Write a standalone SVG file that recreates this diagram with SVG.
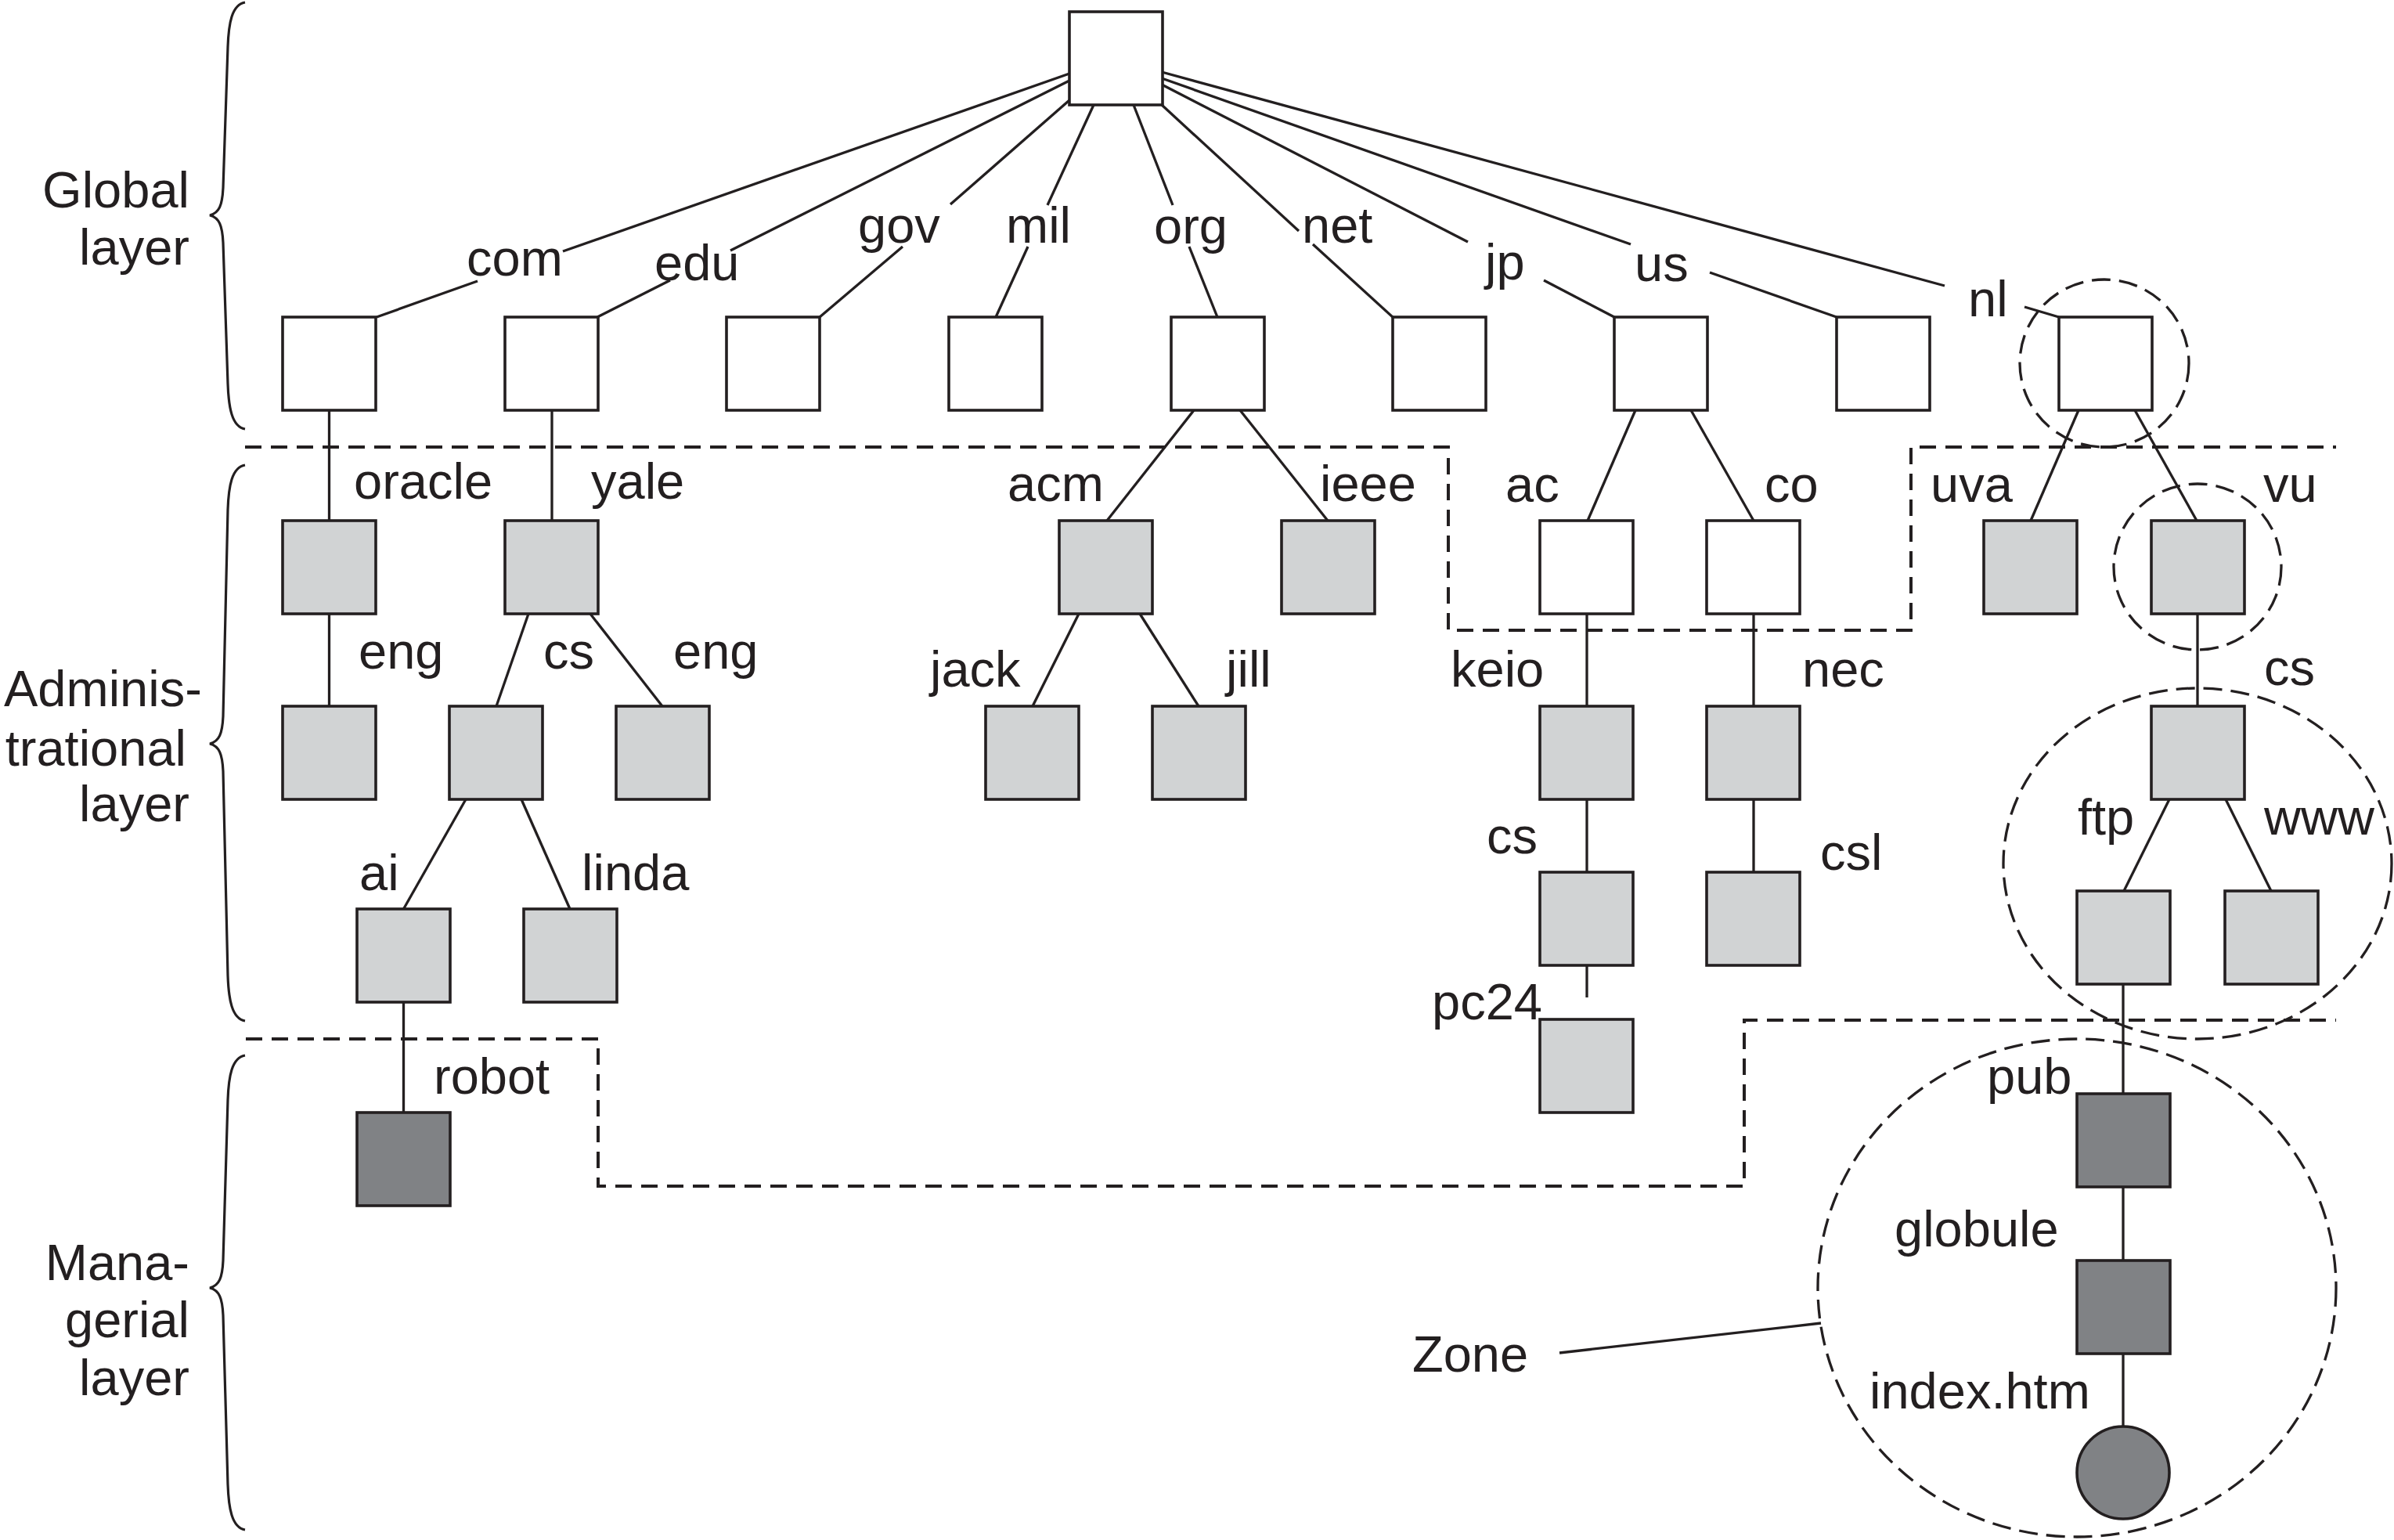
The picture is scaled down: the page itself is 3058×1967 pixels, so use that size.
<svg xmlns="http://www.w3.org/2000/svg" width="3058" height="1967" viewBox="0 0 3058 1967">
<style>
  .bx { stroke:#231f20; stroke-width:3.6; }
  .w { fill:#ffffff; }
  .g { fill:#d1d3d4; }
  .d { fill:#808285; }
  .ln { stroke:#231f20; stroke-width:3.3; fill:none; stroke-linecap:butt; }
  .br { stroke:#231f20; stroke-width:3.2; fill:none; }
  .ds { stroke:#231f20; stroke-width:4; fill:none; stroke-dasharray:21 12; }
  .zc { stroke:#231f20; stroke-width:3.3; fill:none; stroke-dasharray:24 11; }
  text { font-family:"Liberation Sans", Arial, Helvetica, sans-serif; font-size:65px; fill:#231f20; }
  .e { text-anchor:end; }
</style>
<rect x="0" y="0" width="3058" height="1967" fill="#ffffff"/>

<g id="layers">
  <path class="br" d="M313,3 C296,6 292,30 291,60 L285,240 C284,262 280,272 268,275 C280,278 284,288 285,310 L291,490 C292,520 296,545 313,548"/>
  <text class="e" x="242" y="265">Global</text>
  <text class="e" x="242" y="338">layer</text>
  <path class="br" d="M313,594 C296,597 292,621 291,651 L285,915 C284,937 280,947 268,950 C280,953 284,963 285,985 L291,1246 C292,1276 296,1301 313,1304"/>
  <text x="5" y="902">Adminis-</text>
  <text class="e" x="238" y="978">trational</text>
  <text class="e" x="242" y="1049">layer</text>
  <path class="br" d="M313,1348 C296,1351 292,1375 291,1405 L285,1610 C284,1632 280,1642 268,1645 C280,1648 284,1658 285,1680 L291,1896 C292,1926 296,1951 313,1954"/>
  <text class="e" x="242" y="1635">Mana-</text>
  <text class="e" x="242" y="1708">gerial</text>
  <text class="e" x="242" y="1782">layer</text>
</g>

<g id="boundaries">
  <path class="ds" d="M313,571 H1850 V805 H2441 V571 H2984"/>
  <path class="ds" d="M314,1327 H764 V1515 H2228 V1303 H2984"/>
</g>

<g id="connectors">
  <line class="ln" x1="1366" y1="94" x2="719" y2="321"/>
  <line class="ln" x1="610" y1="359" x2="481" y2="405"/>
  <line class="ln" x1="1366" y1="103" x2="933" y2="320"/>
  <line class="ln" x1="856" y1="358" x2="763" y2="405"/>
  <line class="ln" x1="1366" y1="128" x2="1214" y2="261"/>
  <line class="ln" x1="1153" y1="315" x2="1047" y2="405"/>
  <line class="ln" x1="1397" y1="134" x2="1338" y2="262"/>
  <line class="ln" x1="1313" y1="315" x2="1272" y2="405"/>
  <line class="ln" x1="1448" y1="134" x2="1498" y2="262"/>
  <line class="ln" x1="1519" y1="315" x2="1555" y2="405"/>
  <line class="ln" x1="1484" y1="134" x2="1659" y2="295"/>
  <line class="ln" x1="1677" y1="312" x2="1779" y2="405"/>
  <line class="ln" x1="1484" y1="108" x2="1875" y2="309"/>
  <line class="ln" x1="1972" y1="358" x2="2062" y2="405"/>
  <line class="ln" x1="1484" y1="100" x2="2083" y2="312"/>
  <line class="ln" x1="2184" y1="348" x2="2346" y2="405"/>
  <line class="ln" x1="1484" y1="92" x2="2484" y2="365"/>
  <line class="ln" x1="2586" y1="392" x2="2630" y2="405"/>

  <line class="ln" x1="420.5" y1="524" x2="420.5" y2="665"/>
  <line class="ln" x1="420.5" y1="784" x2="420.5" y2="902"/>
  <line class="ln" x1="705" y1="524" x2="705" y2="665"/>
  <line class="ln" x1="675" y1="784" x2="634" y2="902"/>
  <line class="ln" x1="754" y1="784" x2="846" y2="902"/>
  <line class="ln" x1="595" y1="1021" x2="515.5" y2="1161"/>
  <line class="ln" x1="666" y1="1021" x2="728" y2="1161"/>
  <line class="ln" x1="515.5" y1="1280" x2="515.5" y2="1421"/>

  <line class="ln" x1="1525" y1="524" x2="1414" y2="665"/>
  <line class="ln" x1="1584" y1="524" x2="1696" y2="665"/>
  <line class="ln" x1="1378" y1="784" x2="1319" y2="902"/>
  <line class="ln" x1="1456" y1="784" x2="1531" y2="902"/>

  <line class="ln" x1="2089" y1="524" x2="2028" y2="665"/>
  <line class="ln" x1="2160" y1="524" x2="2240" y2="665"/>
  <line class="ln" x1="2027" y1="784" x2="2027" y2="902"/>
  <line class="ln" x1="2240" y1="784" x2="2240" y2="902"/>
  <line class="ln" x1="2027" y1="1021" x2="2027" y2="1114"/>
  <line class="ln" x1="2240" y1="1021" x2="2240" y2="1114"/>
  <line class="ln" x1="2027" y1="1233" x2="2027" y2="1274"/>

  <line class="ln" x1="2655" y1="524" x2="2594" y2="665"/>
  <line class="ln" x1="2727" y1="524" x2="2806" y2="665"/>
  <line class="ln" x1="2807" y1="784" x2="2807" y2="902"/>
  <line class="ln" x1="2771" y1="1021" x2="2713" y2="1138"/>
  <line class="ln" x1="2843" y1="1021" x2="2901" y2="1138"/>
  <line class="ln" x1="2712" y1="1257" x2="2712" y2="1397"/>
  <line class="ln" x1="2712" y1="1516" x2="2712" y2="1610"/>
  <line class="ln" x1="2712" y1="1729" x2="2712" y2="1822"/>
</g>

<g id="zones">
  <ellipse class="zc" cx="2688" cy="464" rx="108" ry="107"/>
  <ellipse class="zc" cx="2807" cy="724" rx="107" ry="106"/>
  <ellipse class="zc" cx="2807" cy="1103" rx="248" ry="224"/>
  <ellipse class="zc" cx="2653" cy="1645" rx="331" ry="318"/>
  <line class="ln" x1="1992" y1="1728" x2="2326" y2="1690"/>
  <text x="1804" y="1752">Zone</text>
</g>

<g id="node-root"><rect class="bx w" x="1366" y="15" width="119" height="119"/></g>

<g id="node-com"><rect class="bx w" x="361" y="405" width="119" height="119"/><text x="596" y="352">com</text></g>
<g id="node-edu"><rect class="bx w" x="645" y="405" width="119" height="119"/><text x="836" y="358">edu</text></g>
<g id="node-gov"><rect class="bx w" x="928" y="405" width="119" height="119"/><text x="1096" y="310">gov</text></g>
<g id="node-mil"><rect class="bx w" x="1212" y="405" width="119" height="119"/><text x="1285" y="310">mil</text></g>
<g id="node-org"><rect class="bx w" x="1496" y="405" width="119" height="119"/><text x="1474" y="311">org</text></g>
<g id="node-net"><rect class="bx w" x="1779" y="405" width="119" height="119"/><text x="1663" y="310">net</text></g>
<g id="node-jp"><rect class="bx w" x="2062" y="405" width="119" height="119"/><text x="1897" y="357">jp</text></g>
<g id="node-us"><rect class="bx w" x="2346" y="405" width="119" height="119"/><text x="2088" y="359">us</text></g>
<g id="node-nl"><rect class="bx w" x="2630" y="405" width="119" height="119"/><text x="2514" y="404">nl</text></g>

<g id="node-oracle"><rect class="bx g" x="361" y="665" width="119" height="119"/><text x="452" y="637">oracle</text></g>
<g id="node-yale"><rect class="bx g" x="645" y="665" width="119" height="119"/><text x="755" y="637">yale</text></g>
<g id="node-acm"><rect class="bx g" x="1353" y="665" width="119" height="119"/><text x="1287" y="640">acm</text></g>
<g id="node-ieee"><rect class="bx g" x="1637" y="665" width="119" height="119"/><text x="1686" y="640">ieee</text></g>
<g id="node-ac"><rect class="bx w" x="1967" y="665" width="119" height="119"/><text x="1923" y="641">ac</text></g>
<g id="node-co"><rect class="bx w" x="2180" y="665" width="119" height="119"/><text x="2254" y="641">co</text></g>
<g id="node-uva"><rect class="bx g" x="2534" y="665" width="119" height="119"/><text x="2466" y="641">uva</text></g>
<g id="node-vu"><rect class="bx g" x="2748" y="665" width="119" height="119"/><text x="2891" y="641">vu</text></g>

<g id="node-oracle-eng"><rect class="bx g" x="361" y="902" width="119" height="119"/><text x="458" y="854">eng</text></g>
<g id="node-yale-cs"><rect class="bx g" x="574" y="902" width="119" height="119"/><text x="694" y="854">cs</text></g>
<g id="node-yale-eng"><rect class="bx g" x="787" y="902" width="119" height="119"/><text x="860" y="854">eng</text></g>
<g id="node-jack"><rect class="bx g" x="1259" y="902" width="119" height="119"/><text x="1188" y="877">jack</text></g>
<g id="node-jill"><rect class="bx g" x="1472" y="902" width="119" height="119"/><text x="1566" y="877">jill</text></g>
<g id="node-keio"><rect class="bx g" x="1967" y="902" width="119" height="119"/><text x="1853" y="877">keio</text></g>
<g id="node-nec"><rect class="bx g" x="2180" y="902" width="119" height="119"/><text x="2302" y="877">nec</text></g>
<g id="node-vu-cs"><rect class="bx g" x="2748" y="902" width="119" height="119"/><text x="2892" y="875">cs</text></g>

<g id="node-ai"><rect class="bx g" x="456" y="1161" width="119" height="119"/><text x="459" y="1137">ai</text></g>
<g id="node-linda"><rect class="bx g" x="669" y="1161" width="119" height="119"/><text x="743" y="1137">linda</text></g>
<g id="node-keio-cs"><rect class="bx g" x="1967" y="1114" width="119" height="119"/><text x="1899" y="1090">cs</text></g>
<g id="node-csl"><rect class="bx g" x="2180" y="1114" width="119" height="119"/><text x="2325" y="1111">csl</text></g>
<g id="node-ftp"><rect class="bx g" x="2653" y="1138" width="119" height="119"/><text x="2654" y="1066">ftp</text></g>
<g id="node-www"><rect class="bx g" x="2842" y="1138" width="119" height="119"/><text x="2892" y="1066">www</text></g>

<g id="node-pc24"><rect class="bx g" x="1967" y="1302" width="119" height="119"/><text x="1829" y="1302">pc24</text></g>
<g id="node-robot"><rect class="bx d" x="456" y="1421" width="119" height="119"/><text x="554" y="1397">robot</text></g>
<g id="node-pub"><rect class="bx d" x="2653" y="1397" width="119" height="119"/><text x="2538" y="1397">pub</text></g>
<g id="node-globule"><rect class="bx d" x="2653" y="1610" width="119" height="119"/><text x="2420" y="1592">globule</text></g>
<g id="node-index-htm"><circle class="bx d" cx="2712" cy="1881" r="59"/><text x="2388" y="1799">index.htm</text></g>
</svg>
